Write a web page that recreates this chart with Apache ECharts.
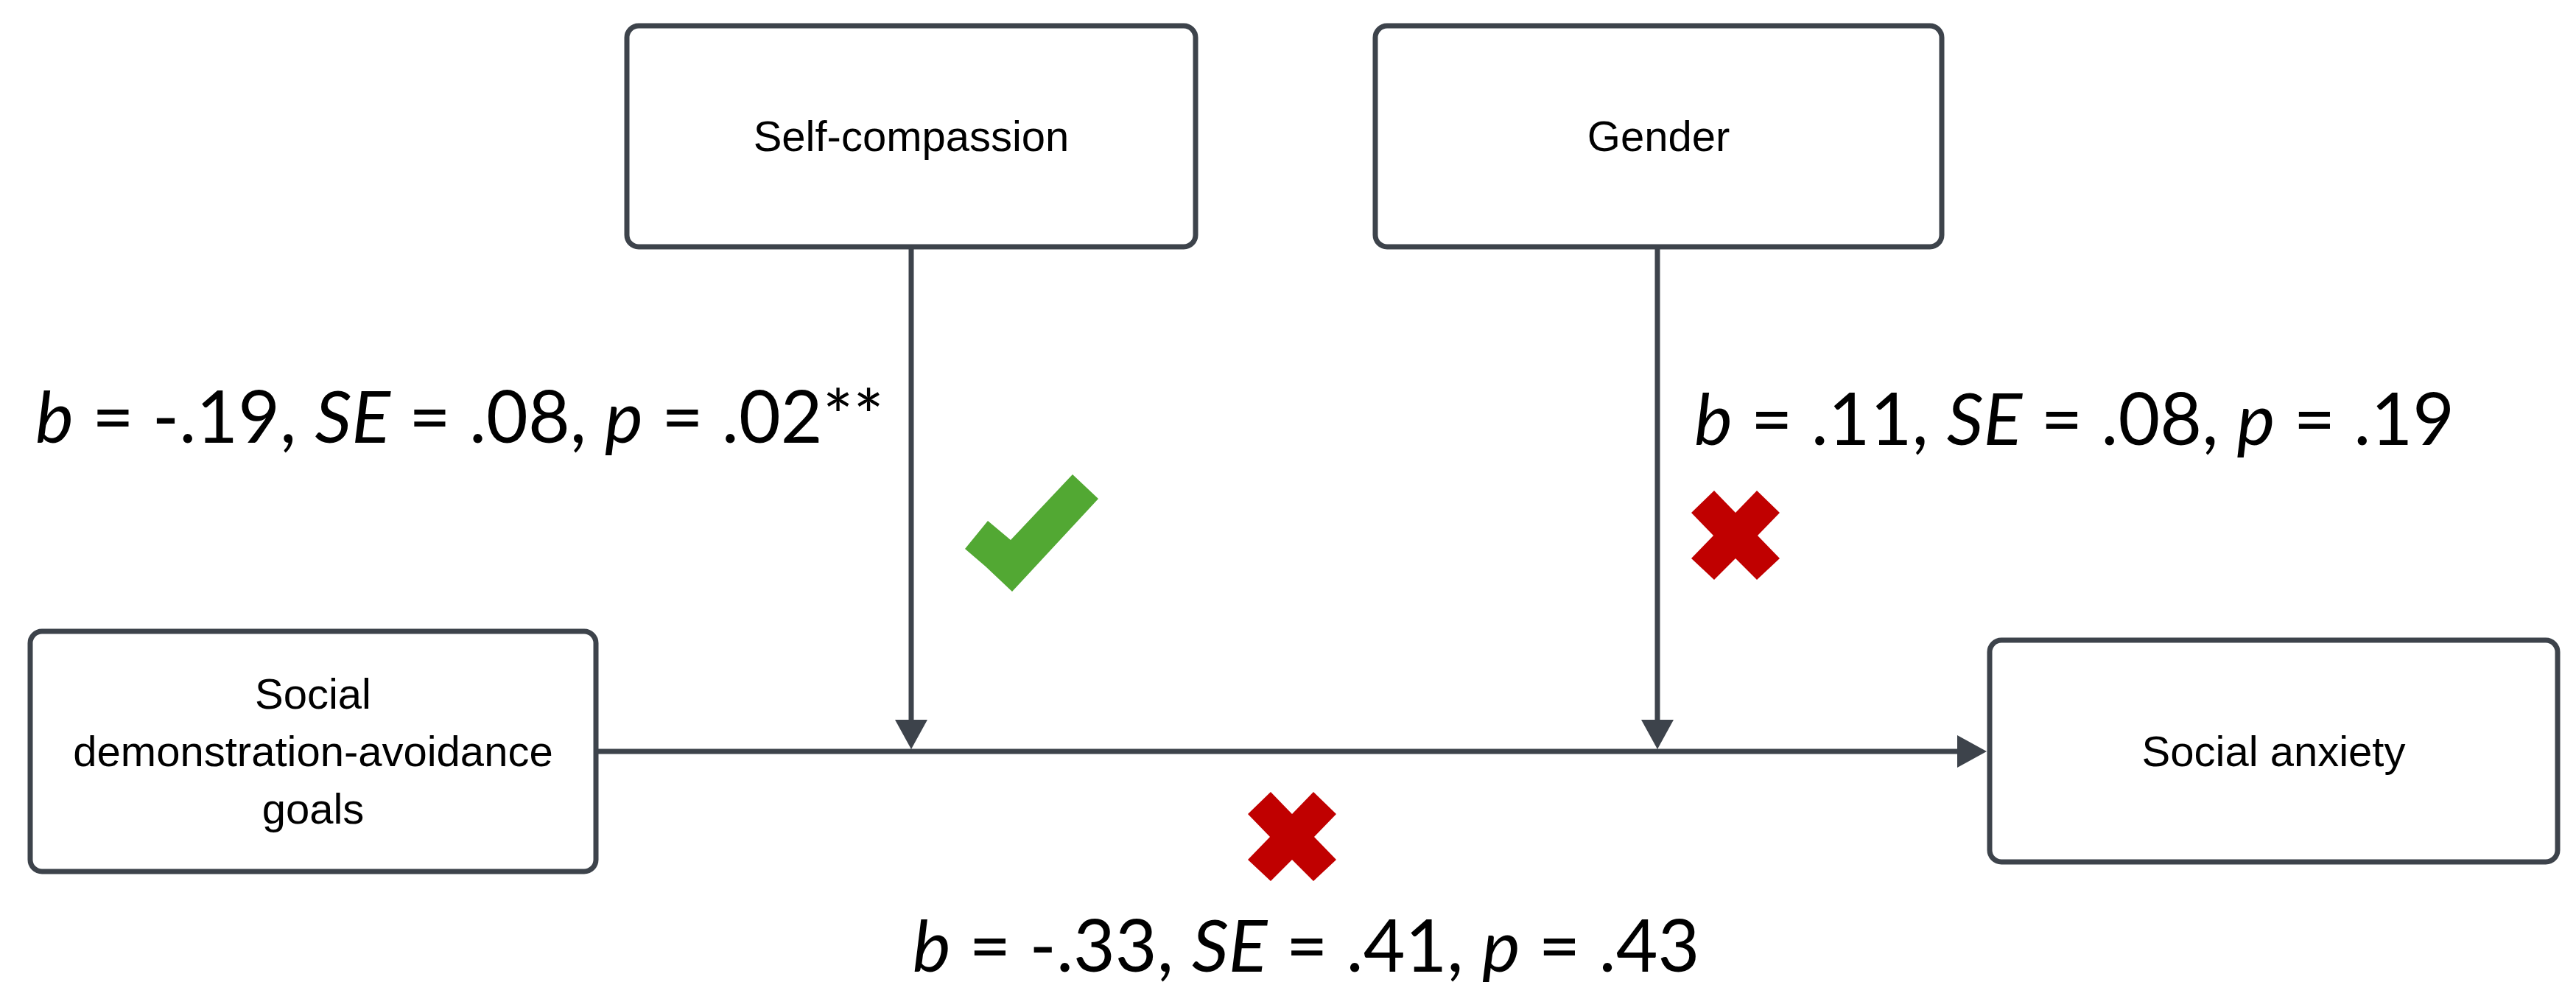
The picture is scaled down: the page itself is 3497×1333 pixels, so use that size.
<!DOCTYPE html>
<html>
<head>
<meta charset="utf-8">
<title>Moderation model</title>
<script src="https://cdn.jsdelivr.net/npm/echarts@6/dist/echarts.min.js"></script>
<style>
    html, body { margin: 0; padding: 0; background: #fff; }
    #chart { width: 3497px; height: 1333px; }
</style>
</head>
<body>
<div id="chart"></div>
<script>
// variables in the model
var nodeNames = ['Self-compassion', 'Gender', 'Social\ndemonstration-avoidance\ngoals', 'Social anxiety'];

// path estimates: self-compassion moderation, gender moderation, direct path
var pathB = [-0.19, 0.11, -0.33];
var pathSE = [0.08, 0.08, 0.41];
var pathP = [0.02, 0.19, 0.43];
var pathStars = ['**', '', ''];
var pathSignificant = [true, false, false];

// layout, in pixel units of the hidden axes
var nodeBoxes = [[851, 35, 1623, 335], [1867, 35, 2636, 335], [41, 857, 809, 1183], [2701, 869, 3472, 1170]];
var edgeLines = [[1237, 335, 1237, 1017], [2250, 335, 2250, 1017], [809, 1020, 2697, 1020]];
var labelPos = [[624, 569], [2816, 572], [1773, 1287]];
var markPos = [[1400, 723], [2356, 727], [1754, 1136]];

var lineColor = '#3d434b';

function fmt(v) {
    var s = Math.abs(v).toFixed(2).replace(/^0/, '');
    return (v < 0 ? '-' : '') + s;
}

// check / cross outlines, offsets from the mark centre
var checkShape = [[91, -46], [56, -79], [-28, 10], [-59, -16], [-90, 22], [-62, 46], [-26, 80]];
var crossShape = [[-60, -31], [-29, -61], [0, -31], [29, -61], [60, -31], [30, 0], [60, 31], [29, 60], [0, 31], [-29, 60], [-60, 31], [-30, 0]];

var chart = echarts.init(document.getElementById('chart'));

var option = {
    animation: false,
    backgroundColor: '#fff',
    grid: { left: 0, right: 0, top: 0, bottom: 0 },
    xAxis: { type: 'value', min: 0, max: 3497, show: false },
    yAxis: { type: 'value', min: 0, max: 1333, inverse: true, show: false },
    series: [{
            // arrows
            type: 'custom',
            data: edgeLines,
            renderItem: function(params, api) {
                var a = api.coord([api.value(0), api.value(1)]);
                var b = api.coord([api.value(2), api.value(3)]);
                var dx = b[0] - a[0], dy = b[1] - a[1];
                var len = Math.sqrt(dx * dx + dy * dy);
                var ux = dx / len, uy = dy / len;
                var L = 40, W = 22;
                var base = [b[0] - ux * L, b[1] - uy * L];
                return {
                    type: 'group',
                    children: [{
                        type: 'line',
                        shape: { x1: a[0], y1: a[1], x2: base[0] + ux * 2, y2: base[1] + uy * 2 },
                        style: { stroke: lineColor, lineWidth: 7 }
                    }, {
                        type: 'polygon',
                        shape: { points: [b, [base[0] - uy * W, base[1] + ux * W], [base[0] + uy * W, base[1] - ux * W]] },
                        style: { fill: lineColor }
                    }]
                };
            }
        },
        {
            // boxes
            type: 'custom',
            data: nodeBoxes,
            renderItem: function(params, api) {
                var p0 = api.coord([api.value(0), api.value(1)]);
                var p1 = api.coord([api.value(2), api.value(3)]);
                return {
                    type: 'group',
                    children: [{
                        type: 'rect',
                        shape: { x: p0[0], y: p0[1], width: p1[0] - p0[0], height: p1[1] - p0[1], r: 16 },
                        style: { fill: '#fff', stroke: lineColor, lineWidth: 7 }
                    }, {
                        type: 'text',
                        style: {
                            text: nodeNames[params.dataIndex],
                            x: (p0[0] + p1[0]) / 2,
                            y: (p0[1] + p1[1]) / 2 + 4,
                            align: 'center',
                            verticalAlign: 'middle',
                            fontSize: 58,
                            lineHeight: 78,
                            fontFamily: '"Liberation Sans", Arial, sans-serif',
                            fill: '#000'
                        }
                    }]
                };
            }
        },
        {
            // significance marks
            type: 'custom',
            data: markPos,
            renderItem: function(params, api) {
                var c = api.coord([api.value(0), api.value(1)]);
                var ok = pathSignificant[params.dataIndex];
                var pts = (ok ? checkShape : crossShape).map(function(o) {
                    return [c[0] + o[0], c[1] + o[1]];
                });
                return {
                    type: 'polygon',
                    shape: { points: pts },
                    style: { fill: ok ? '#52a833' : '#c00000' }
                };
            }
        },
        {
            // path estimates
            type: 'custom',
            data: labelPos,
            renderItem: function(params, api) {
                var i = params.dataIndex;
                var c = api.coord([api.value(0), api.value(1)]);
                var txt = '{i|b} = ' + fmt(pathB[i]) + ', {i|SE} = ' + fmt(pathSE[i]) +
                    ', {i|p} = ' + fmt(pathP[i]) + pathStars[i];
                return {
                    type: 'text',
                    style: {
                        text: txt,
                        x: c[0],
                        y: c[1],
                        align: 'center',
                        verticalAlign: 'middle',
                        fontSize: 98,
                        fontFamily: 'Lato, sans-serif',
                        fill: '#000',
                        rich: {
                            i: { fontStyle: 'italic', fontSize: 98, fontFamily: 'Lato, sans-serif' }
                        }
                    }
                };
            }
        }
    ]
};

chart.setOption(option);
</script>
</body>
</html>
